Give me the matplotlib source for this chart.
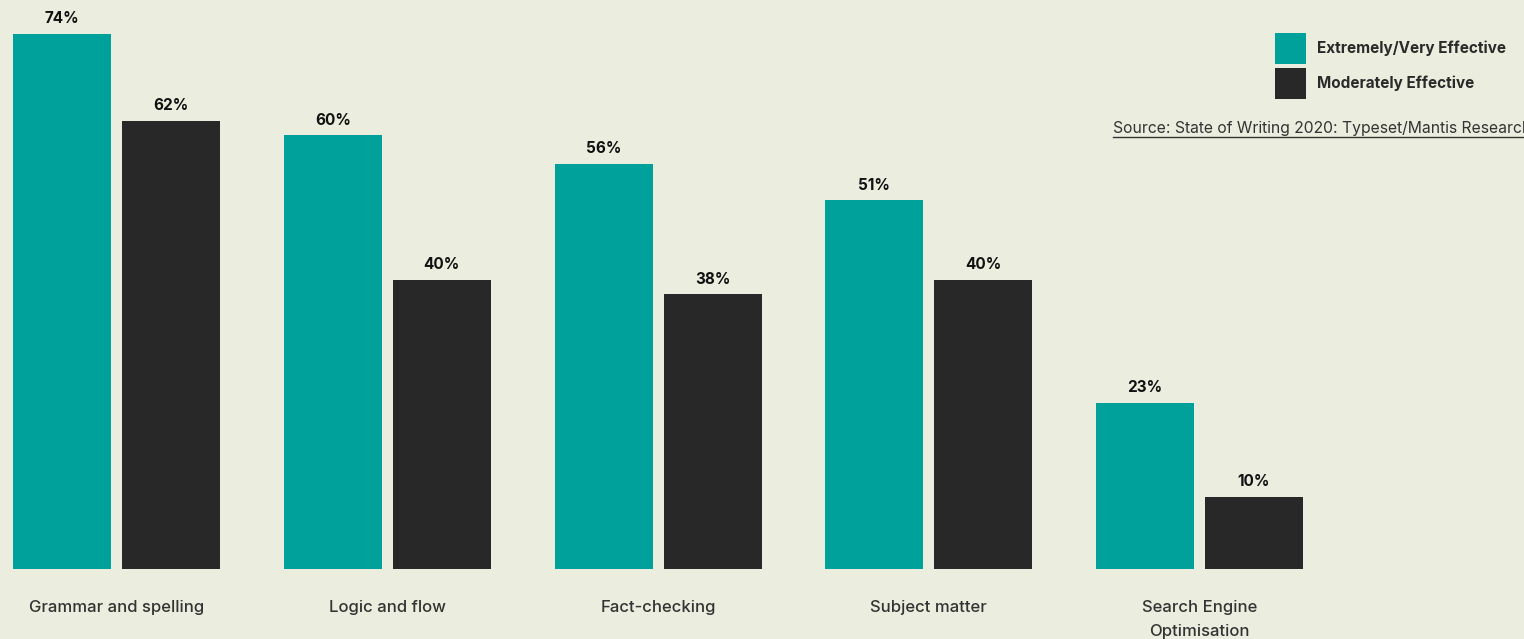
import numpy as np
import matplotlib.pyplot as plt
from matplotlib.lines import Line2D

plt.rcParams['font.family'] = ['Inter', 'DejaVu Sans']

categories = ["Grammar and spelling", "Logic and flow", "Fact-checking",
              "Subject matter", "Search Engine\nOptimisation"]
very_effective = [74, 60, 56, 51, 23]
moderately_effective = [62, 40, 38, 40, 10]
series_names = ["Extremely/Very Effective", "Moderately Effective"]
source = "Source: State of Writing 2020: Typeset/Mantis Research"

bg = "#EBEDDE"
teal = "#00A19A"
dark = "#282828"

fig = plt.figure(figsize=(15.24, 6.39), dpi=100, facecolor=bg)
ax = fig.add_axes([0, 70 / 639, 1, 569 / 639])
ax.set_facecolor(bg)

x = np.arange(len(categories))
step = 270.75
width = 98 / step
off = 54.5 / step

b1 = ax.bar(x - off, very_effective, width, color=teal, label=series_names[0])
b2 = ax.bar(x + off, moderately_effective, width, color=dark, label=series_names[1])

for bars in (b1, b2):
    ax.bar_label(bars, labels=[f"{v}%" for v in bars.datavalues], padding=5.5,
                 fontsize=11, fontweight="bold", color="#111111")

ax.set_xlim(-116.5 / step, (1524 - 116.5) / step)
ax.set_ylim(0, 569 / 7.23)
ax.set_xticks(x)
ax.set_xticklabels(categories, fontsize=12, fontweight="medium",
                   color="#333333", linespacing=1.75)
ax.tick_params(axis="x", length=0, pad=22)
ax.set_yticks([])
for s in ax.spines.values():
    s.set_visible(False)

# legend box: square swatches of ~31 px
fs = 11 * 100 / 72
ax.legend(loc="upper left", bbox_to_anchor=(1275 / 1524, 1 - 33 / 639),
          bbox_transform=fig.transFigure, frameon=False,
          prop={"weight": "bold", "size": 11}, labelcolor="#2a2a2a",
          handlelength=31 / fs, handleheight=2.745, handletextpad=0.75,
          labelspacing=0.26, borderpad=0, borderaxespad=0)

src = fig.text(1113 / 1524, 1 - 128 / 639, source, fontsize=11.3,
               color="#333333", ha="left", va="center")
fig.canvas.draw()
bb = src.get_window_extent().transformed(fig.transFigure.inverted())
fig.add_artist(Line2D([bb.x0, bb.x1], [bb.y0 - 1.5 / 639] * 2, lw=1,
                      color="#333333", transform=fig.transFigure))

fig.savefig("out.png", dpi=100, facecolor=bg)
